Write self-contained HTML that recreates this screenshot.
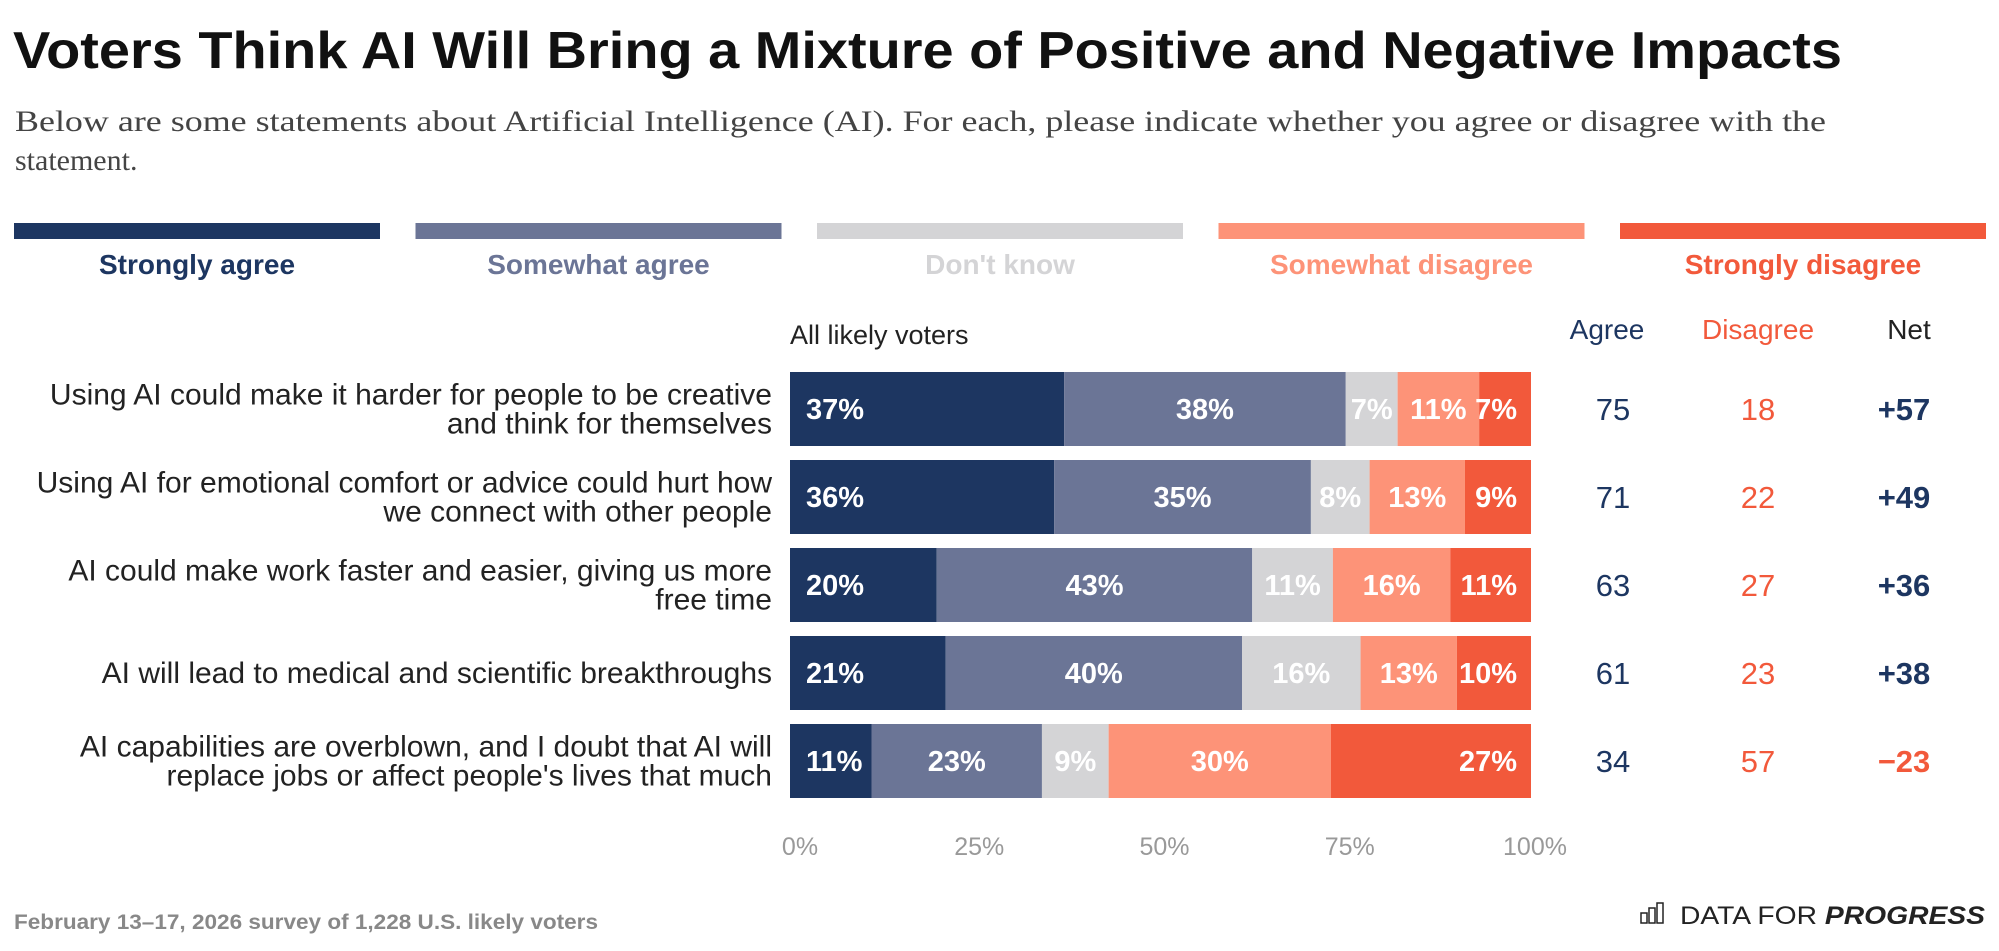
<!DOCTYPE html>
<html><head><meta charset="utf-8"><style>
html,body{margin:0;padding:0;background:#fff;}
svg{display:block;font-family:"Liberation Sans",sans-serif;}
</style></head><body>
<svg id="chart" width="1999" height="951" viewBox="0 0 1999 951" xmlns="http://www.w3.org/2000/svg">
<text x="13" y="68" font-size="52" font-weight="bold" fill="#111" textLength="1829" lengthAdjust="spacingAndGlyphs">Voters Think AI Will Bring a Mixture of Positive and Negative Impacts</text>
<text x="15" y="131" font-size="30" fill="#444" font-family="Liberation Serif, serif" textLength="1811" lengthAdjust="spacingAndGlyphs">Below are some statements about Artificial Intelligence (AI). For each, please indicate whether you agree or disagree with the</text>
<text x="15" y="170" font-size="30" fill="#444" font-family="Liberation Serif, serif">statement.</text>
<g id="legend"></g>
<text x="790" y="344" font-size="27" fill="#222">All likely voters</text>
<text x="1607" y="339" font-size="28" fill="#1d3661" text-anchor="middle">Agree</text>
<text x="1758" y="339" font-size="28" fill="#f2593b" text-anchor="middle">Disagree</text>
<text x="1909" y="339" font-size="28" fill="#222" text-anchor="middle">Net</text>
<g id="rows"></g>
<g id="xaxis"></g>
<text x="14" y="929" font-size="21" font-weight="bold" fill="#888" textLength="584" lengthAdjust="spacingAndGlyphs">February 13–17, 2026 survey of 1,228 U.S. likely voters</text>
<g>
<g fill="none" stroke="#222" stroke-width="1.5">
<rect x="1641" y="913" width="6" height="10"/><rect x="1649" y="908" width="6" height="15"/><rect x="1657" y="903" width="6" height="20"/>
</g>
<text x="1680" y="924" font-size="25" fill="#222" textLength="305" lengthAdjust="spacingAndGlyphs">DATA FOR <tspan font-weight="bold" font-style="italic">PROGRESS</tspan></text>
</g>
</svg>
<script>
const categories = ["Strongly agree","Somewhat agree","Don't know","Somewhat disagree","Strongly disagree"];
const colors = ["#1d3661","#6b7596","#d4d4d6","#fd9378","#f2593b"];
const rowLabels = [
 ["Using AI could make it harder for people to be creative","and think for themselves"],
 ["Using AI for emotional comfort or advice could hurt how","we connect with other people"],
 ["AI could make work faster and easier, giving us more","free time"],
 ["AI will lead to medical and scientific breakthroughs"],
 ["AI capabilities are overblown, and I doubt that AI will","replace jobs or affect people's lives that much"]
];
const stronglyAgree = [37,36,20,21,11];
const somewhatAgree = [38,35,43,40,23];
const dontKnow = [7,8,11,16,9];
const somewhatDisagree = [11,13,16,13,30];
const stronglyDisagree = [7,9,11,10,27];
const agreeTotals = [75,71,63,61,34];
const disagreeTotals = [18,22,27,23,57];
const netValues = ["+57","+49","+36","+38","−23"];
const tickValues = [0,25,50,75,100];
const tickLabels = ["0%","25%","50%","75%","100%"];

const NS="http://www.w3.org/2000/svg";
const X0=790, X1=1531, Y0=372, PITCH=88, BH=74;
const x = v => X0 + (X1-X0)*v/100;
const y = i => Y0 + i*PITCH;
function mk(tag, attrs, parent, txt){const e=document.createElementNS(NS,tag);for(const k in attrs)e.setAttribute(k,attrs[k]);if(txt!==undefined)e.textContent=txt;parent.appendChild(e);return e;}

const legend=document.getElementById('legend');
categories.forEach((c,i)=>{
  const lx=14+i*401.5;
  const r=mk('rect',{x:lx,y:223,width:366,height:16,fill:colors[i]},legend);
  
  
  const t=mk('text',{x:lx+183,y:274,'font-size':28,'font-weight':'bold','text-anchor':'middle',fill:colors[i]},legend,c);
  
  
});

const rows=document.getElementById('rows');
const series=[stronglyAgree,somewhatAgree,dontKnow,somewhatDisagree,stronglyDisagree];
rowLabels.forEach((lines,i)=>{
  const top=y(i), mid=top+BH/2;
  const n=lines.length;
  lines.forEach((ln,j)=>{
    const t=mk('text',{x:772,y:mid+10+(j-(n-1)/2)*29,'font-size':30,fill:'#222','text-anchor':'end'},rows,ln);
    
    
  });
  const vals=series.map(s=>s[i]);
  const total=vals.reduce((a,b)=>a+b,0);
  let cum=0;
  vals.forEach((v,k)=>{
    const a=x(cum/total*100), b=x((cum+v)/total*100);
    cum+=v;
    const r=mk('rect',{x:a,y:top,width:b-a,height:BH,fill:colors[k]},rows);
    
    
    let tx=(a+b)/2, anchor='middle';
    if(k===0){tx=a+16;anchor='start';}
    if(k===4){tx=b-14;anchor='end';}
    const t=mk('text',{x:tx,y:mid+10,'font-size':29,'font-weight':'bold',fill:'#fff','text-anchor':anchor},rows,v+'%');
    
    
  });
  const ta=mk('text',{x:1613,y:mid+11,'font-size':31,fill:'#1d3661','text-anchor':'middle'},rows,agreeTotals[i]);
  
  
  const td=mk('text',{x:1758,y:mid+11,'font-size':31,fill:'#f2593b','text-anchor':'middle'},rows,disagreeTotals[i]);
  
  
  const neg=netValues[i].startsWith('−');
  const tn=mk('text',{x:1904,y:mid+11,'font-size':31,'font-weight':'bold',fill:neg?'#f2593b':'#1d3661','text-anchor':'middle'},rows,netValues[i]);
  
  
});

const xa=document.getElementById('xaxis');
tickValues.forEach((v,i)=>{
  const t=mk('text',{x:x(v)+(v===0?10:4),y:855,'font-size':25,fill:'#999','text-anchor':'middle'},xa,tickLabels[i]);
  
  
});
</script>
</body></html>
